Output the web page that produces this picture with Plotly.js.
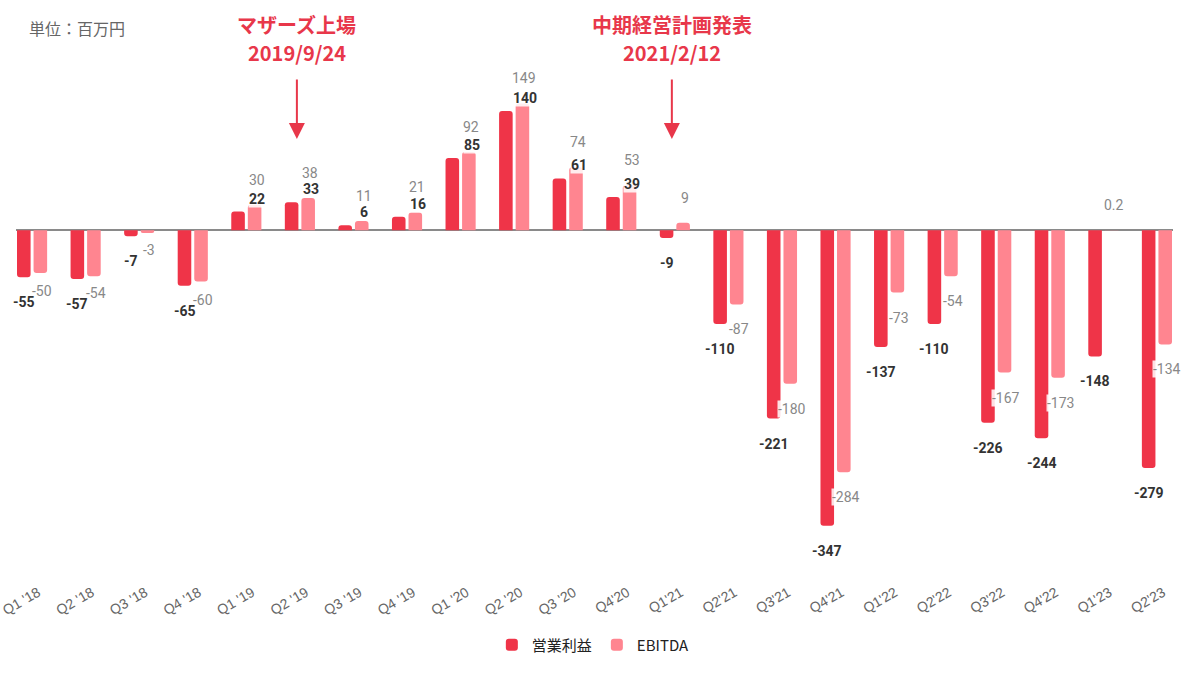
<!DOCTYPE html>
<html>
<head>
<meta charset="utf-8">
<script src="https://cdn.plot.ly/plotly-3.0.1.min.js"></script>
<style>
html,body{margin:0;padding:0;background:#fff;}
#chart{width:1200px;height:678px;}
</style>
</head>
<body>
<div id="chart"></div>
<script>
// ---- data ----
const categories = ["Q1 '18","Q2 '18","Q3 '18","Q4 '18","Q1 '19","Q2 '19","Q3 '19","Q4 '19","Q1 '20","Q2 '20","Q3 '20","Q4'20","Q1'21","Q2'21","Q3'21","Q4'21","Q1'22","Q2'22","Q3'22","Q4'22","Q1'23","Q2'23"];
const operatingIncome = [-55,-57,-7,-65,22,33,6,16,85,140,61,39,-9,-110,-221,-347,-137,-110,-226,-244,-148,-279];
const ebitda = [-50,-54,-3,-60,30,38,11,21,92,149,74,53,9,-87,-180,-284,-73,-54,-167,-173,0.2,-134];
const seriesNames = ["営業利益","EBITDA"];
const eventTitles = ["マザーズ上場","中期経営計画発表"];
const eventDates = ["2019/9/24","2021/2/12"];
const eventCategories = ["Q2 '19","Q1'21"];
const unitLabel = "単位：百万円";

// ---- style ----
const RED = "#EF3448", PINK = "#FF8590", EVENT = "#E8374A";
const M = {l:16, r:27, t:60, b:107};
const W = 1200, H = 678;
const yRange = [-400, 200];
const plotH = H - M.t - M.b;
const ppu = plotH / (yRange[1] - yRange[0]);
const barOff = 8.25;

const pinkAnn = [], redAnn = [];
const fmt = v => String(v);

categories.forEach((c, i) => {
  const r = operatingIncome[i], e = ebitda[i];
  let rShift, rX;
  if (r >= 0) { rShift = 13; rX = 11; } else { rShift = -25; rX = -barOff; }
  redAnn.push({
    x: c, y: r, xref: 'x', yref: 'y', showarrow: false,
    text: fmt(r), xshift: rX, yshift: rShift,
    font: {family: 'Roboto, "Noto Sans"', size: 14, color: '#333', weight: 'bold'},
    bgcolor: 'rgba(255,255,255,0.85)', borderpad: 0
  });
  let eShift;
  if (e >= 0) { eShift = 25; }
  else {
    eShift = -25;
    const rPx = r < 0 ? r * ppu - 25 : null;
    const ePx = e * ppu + eShift;
    if (rPx !== null && ePx < rPx + 11) eShift = rPx + 11 - e * ppu;
  }
  pinkAnn.push({
    x: c, y: e, xref: 'x', yref: 'y', showarrow: false,
    text: fmt(e), xshift: barOff + 2, yshift: eShift,
    font: {family: 'Roboto, "Noto Sans"', size: 14, color: '#888'},
    bgcolor: 'rgba(255,255,255,0.85)', borderpad: 0
  });
});

const annotations = pinkAnn.concat(redAnn);

// events
const paperY = px => 1 - (px - M.t) / plotH;
eventCategories.forEach((c, k) => {
  const evFont = {family: '"Noto Sans CJK JP"', size: 20, color: EVENT, weight: 'bold'};
  annotations.push({
    x: c, xref: 'x', y: paperY(25), yref: 'paper', xshift: -3,
    text: eventTitles[k], showarrow: false, yanchor: 'middle', font: evFont
  });
  annotations.push({
    x: c, xref: 'x', y: paperY(52), yref: 'paper', xshift: -3,
    text: eventDates[k], showarrow: false, yanchor: 'middle', font: evFont
  });
  annotations.push({
    x: c, xref: 'x', y: paperY(139), yref: 'paper', xshift: -3,
    text: '', showarrow: true, ax: 0, ay: -61, arrowhead: 2, arrowsize: 1.6,
    arrowwidth: 2, arrowcolor: EVENT, standoff: 0
  });
});

annotations.push({
  x: (27 - M.l) / (W - M.l - M.r), xref: 'paper', xanchor: 'left',
  y: paperY(28), yref: 'paper', yanchor: 'middle',
  text: unitLabel, showarrow: false,
  font: {family: '"Noto Sans CJK JP"', size: 16, color: '#666'}
});

const traces = [
  {type: 'bar', name: seriesNames[0], x: categories, y: operatingIncome,
   marker: {color: RED, cornerradius: 3}, hoverinfo: 'none'},
  {type: 'bar', name: seriesNames[1], x: categories, y: ebitda,
   marker: {color: PINK, cornerradius: 3}, hoverinfo: 'none'}
];

const layout = {
  width: W, height: H,
  margin: M,
  paper_bgcolor: '#fff', plot_bgcolor: '#fff',
  barmode: 'group', bargap: 0.382, bargroupgap: 0.18,
  xaxis: {
    type: 'category', range: [-0.3, 21.3],
    tickangle: -30, ticks: '', showgrid: false, showline: false, zeroline: false,
    tickfont: {family: '"Liberation Sans", Arial, sans-serif', size: 14, color: '#666'},
    ticklabelshift: 6, ticklabelstandoff: 10,
    fixedrange: true
  },
  yaxis: {
    range: yRange, showgrid: false, showticklabels: false, ticks: '',
    zeroline: true, zerolinecolor: '#8a8a8a', zerolinewidth: 2, showline: false,
    fixedrange: true
  },
  showlegend: true,
  legend: {
    orientation: 'h', x: 0.499, xanchor: 'center', y: paperY(645), yanchor: 'middle',
    font: {family: '"Noto Sans CJK JP", "Liberation Sans"', size: 15, color: '#222'},
    itemclick: false, itemdoubleclick: false
  },
  annotations: annotations
};

Plotly.newPlot('chart', traces, layout, {displayModeBar: false, staticPlot: true});
</script>
</body>
</html>
